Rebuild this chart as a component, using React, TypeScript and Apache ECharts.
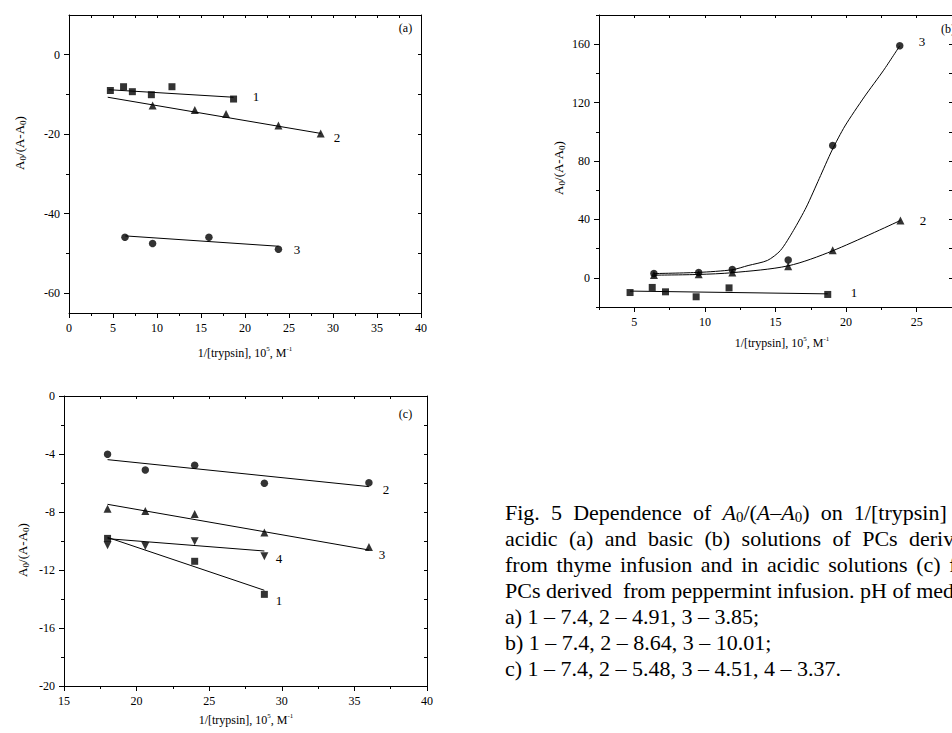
import React, { useEffect, useRef } from 'react';
import * as echarts from 'echarts';

const FONT = '"Liberation Serif", "Times New Roman", Times, serif';

// ---------- Panel (a): acidic, thyme ----------
const aSquares = [[4.7, -9.0], [6.2, -8.05], [7.2, -9.3], [9.36, -10.06], [11.7, -8.05], [18.7, -11.15]];
const aTriangles = [[9.5, -12.8], [14.3, -13.9], [17.85, -14.9], [23.8, -17.8], [28.6, -19.8]];
const aCircles = [[6.36, -45.95], [9.5, -47.5], [15.9, -45.95], [23.8, -48.97]];
const aFit1 = [[4.5, -8.8], [18.7, -10.7]];
const aFit2 = [[4.4, -10.7], [28.6, -19.8]];
const aFit3 = [[6.4, -45.6], [23.8, -48.2]];
const aXMajor = [0, 5, 10, 15, 20, 25, 30, 35, 40];
const aXMinor = [2.5, 7.5, 12.5, 17.5, 22.5, 27.5, 32.5, 37.5];
const aYMajor = [-60, -40, -20, 0];
const aYMinor = [-50, -30, -10];

// ---------- Panel (b): basic, thyme ----------
const bSquares = [[4.7, -10.1], [6.27, -6.6], [7.21, -9.6], [9.38, -13.0], [11.71, -6.9], [18.7, -11.4]];
const bTriangles = [[6.39, 2.0], [9.56, 2.5], [11.94, 3.7], [15.9, 7.9], [19.05, 18.8], [23.85, 39.3]];
const bCircles = [[6.39, 3.0], [9.56, 3.66], [11.94, 5.7], [15.9, 12.2], [19.05, 90.6], [23.8, 158.9]];
const bFit1 = [[4.7, -9.1], [18.7, -11.0]];
const bCurve2 = [[6.39, 1.8], [9.56, 2.3], [11.94, 3.5], [15.9, 8.2], [19.05, 18.5], [23.85, 39.3]];
const bCurve3 = [
  [6.39, 2.9], [9.56, 3.7], [11.94, 5.5], [13.06, 8.4], [14.43, 11.9], [15.35, 18.7],
  [16.27, 32.4], [17.18, 48.4], [18.1, 68.0], [19.01, 87.5], [19.92, 104.0],
  [21.29, 123.9], [22.66, 142.2], [23.8, 158.9],
];
const bXMajor = [5, 10, 15, 20, 25];
const bXMinor = [2.5, 7.5, 12.5, 17.5, 22.5, 27.5];
const bYMajor = [0, 40, 80, 120, 160];
const bYMinor = [-20, 20, 60, 100, 140, 180];

// ---------- Panel (c): acidic, peppermint ----------
const cSquares = [[18.0, -9.82], [24.0, -11.4], [28.8, -13.68]];
const cCircles = [[18.0, -4.02], [20.6, -5.1], [24.0, -4.78], [28.8, -6.02], [36.0, -5.98]];
const cTriangles = [[18.0, -7.77], [20.6, -7.93], [24.0, -8.14], [28.8, -9.42], [36.0, -10.41]];
const cDownTriangles = [[18.0, -10.3], [20.6, -10.34], [24.0, -10.02], [28.8, -11.06]];
const cFit1 = [[18.0, -9.75], [28.8, -13.4]];
const cFit2 = [[18.0, -4.39], [36.0, -6.25]];
const cFit3 = [[18.0, -7.47], [36.0, -10.62]];
const cFit4 = [[18.0, -9.84], [28.8, -10.69]];
const cXMajor = [15, 20, 25, 30, 35, 40];
const cXMinor = [17.5, 22.5, 27.5, 32.5, 37.5];
const cYMajor = [-20, -16, -12, -8, -4, 0];
const cYMinor = [-18, -14, -10, -6, -2];

// Caption: justified lines are lists of words; each word is a list of [token, text]
type Tok = [string, string];
const captionJustified: Tok[][][] = [
  [[['n', 'Fig.']], [['n', '5']], [['n', 'Dependence']], [['n', 'of']],
   [['i', 'A'], ['s', '0'], ['n', '/('], ['i', 'A'], ['n', '–'], ['i', 'A'], ['s', '0'], ['n', ')']],
   [['n', 'on']], [['n', '1/[trypsin]']], [['n', 'in']]],
  'acidic (a) and basic (b) solutions of PCs derived'.split(' ').map((w) => [['n', w]] as Tok[]),
  'from thyme infusion and in acidic solutions (c) for'.split(' ').map((w) => [['n', w]] as Tok[]),
];
const captionPlain = [
  'PCs derived  from peppermint infusion. pH of medium:',
  'a) 1 – 7.4, 2 – 4.91, 3 – 3.85;',
  'b) 1 – 7.4, 2 – 8.64, 3 – 10.01;',
  'c) 1 – 7.4, 2 – 5.48, 3 – 4.51, 4 – 3.37.',
];

const BLACK = '#000';
const PAGE_W = 952;
const CAP_SIZE = 22;
const CAP_LEFT = 505;
const CAP_RIGHT = 975;
const CAP_ROWS = [512, 538, 564, 590, 616, 642, 668];

function xAxesFor(gridIndex: number, min: number, max: number, major: number[], minor: number[]) {
  return [
    {
      gridIndex, type: 'value', min, max, position: 'bottom',
      axisLine: { show: true, onZero: false, lineStyle: { color: BLACK, width: 1 } },
      axisTick: { show: true, inside: false, length: 5, customValues: major, lineStyle: { color: BLACK, width: 1 } },
      axisLabel: { show: true, customValues: major, color: BLACK, fontFamily: FONT, fontSize: 12, margin: 9 },
      splitLine: { show: false },
    },
    {
      gridIndex, type: 'value', min, max, position: 'bottom',
      axisLine: { show: false, onZero: false },
      axisTick: { show: true, inside: false, length: 3, customValues: minor, lineStyle: { color: BLACK, width: 1 } },
      axisLabel: { show: false },
      splitLine: { show: false },
    },
    {
      gridIndex, type: 'value', min, max, position: 'top',
      axisLine: { show: true, onZero: false, lineStyle: { color: BLACK, width: 1 } },
      axisTick: { show: true, inside: true, length: 3, customValues: [...major, ...minor], lineStyle: { color: BLACK, width: 1 } },
      axisLabel: { show: false },
      splitLine: { show: false },
    },
  ];
}

function yAxesFor(gridIndex: number, min: number, max: number, major: number[], minor: number[]) {
  return [
    {
      gridIndex, type: 'value', min, max, position: 'left',
      axisLine: { show: true, onZero: false, lineStyle: { color: BLACK, width: 1 } },
      axisTick: { show: true, inside: false, length: 5, customValues: major, lineStyle: { color: BLACK, width: 1 } },
      axisLabel: { show: true, customValues: major, color: BLACK, fontFamily: FONT, fontSize: 12, margin: 9 },
      splitLine: { show: false },
    },
    {
      gridIndex, type: 'value', min, max, position: 'left',
      axisLine: { show: false, onZero: false },
      axisTick: { show: true, inside: false, length: 3, customValues: minor, lineStyle: { color: BLACK, width: 1 } },
      axisLabel: { show: false },
      splitLine: { show: false },
    },
    {
      gridIndex, type: 'value', min, max, position: 'right',
      axisLine: { show: true, onZero: false, lineStyle: { color: BLACK, width: 1 } },
      axisTick: { show: true, inside: true, length: 3, customValues: [...major, ...minor], lineStyle: { color: BLACK, width: 1 } },
      axisLabel: { show: false },
      splitLine: { show: false },
    },
  ];
}

function scatter(panel: number, data: number[][], symbol: string, size: number, rotate = 0) {
  return {
    type: 'scatter', xAxisIndex: panel * 3, yAxisIndex: panel * 3, data,
    symbol, symbolSize: size, symbolRotate: rotate,
    itemStyle: { color: BLACK }, silent: true, z: 3,
  };
}

function line(panel: number, data: number[][], smooth: number | boolean = false) {
  return {
    type: 'line', xAxisIndex: panel * 3, yAxisIndex: panel * 3, data,
    symbol: 'none', showSymbol: false, smooth,
    lineStyle: { color: BLACK, width: 1 }, silent: true, z: 2,
  };
}

const subSize = (size: number) => Math.round(size * 0.68);
const supSize = (size: number) => Math.round(size * 0.6);

const tokenStyle = (size: number) => ({
  n: { fontSize: size, fontFamily: FONT, fill: BLACK, color: BLACK, lineHeight: size + 3 },
  s: { fontSize: subSize(size), fontFamily: FONT, fill: BLACK, color: BLACK, lineHeight: subSize(size), verticalAlign: 'bottom' },
  p: { fontSize: supSize(size), fontFamily: FONT, fill: BLACK, color: BLACK, lineHeight: supSize(size), verticalAlign: 'top' },
  i: { fontSize: size, fontFamily: FONT, fontStyle: 'italic', fill: BLACK, color: BLACK, lineHeight: size + 3 },
});

function richTxt(text: string, x: number, y: number, size: number, align = 'center', rotation = 0) {
  return {
    type: 'text', x, y, rotation, silent: true,
    style: {
      text, fill: BLACK, fontFamily: FONT, fontSize: size,
      align, textAlign: align, verticalAlign: 'middle', textVerticalAlign: 'middle',
      rich: tokenStyle(size),
    },
  };
}

function plainTxt(text: string, x: number, y: number, size: number, align = 'center') {
  return {
    type: 'text', x, y, silent: true,
    style: {
      text, fill: BLACK, fontFamily: FONT, fontSize: size,
      align, textAlign: align, verticalAlign: 'middle', textVerticalAlign: 'middle',
    },
  };
}

let measureCtx: CanvasRenderingContext2D | null = null;
function measure(text: string, size: number, italic: boolean) {
  if (!measureCtx) measureCtx = document.createElement('canvas').getContext('2d');
  if (!measureCtx) return text.length * size * 0.5;
  measureCtx.font = `${italic ? 'italic ' : ''}${size}px "Liberation Serif"`;
  return measureCtx.measureText(text).width;
}

function wordWidth(word: Tok[], size: number) {
  return word.reduce((s, [k, t]) => {
    const sz = k === 's' ? subSize(size) : k === 'p' ? supSize(size) : size;
    return s + measure(t, sz, k === 'i');
  }, 0);
}

function justifiedLine(words: Tok[][], y: number, out: any[]) {
  const widths = words.map((w) => wordWidth(w, CAP_SIZE));
  const total = widths.reduce((a, b) => a + b, 0);
  const gap = (CAP_RIGHT - CAP_LEFT - total) / (words.length - 1);
  let x = CAP_LEFT;
  words.forEach((w, k) => {
    if (x < PAGE_W - 1) {
      const rich = w.map(([t, s]) => `{${t}|${s}}`).join('');
      out.push(richTxt(rich, x, y, CAP_SIZE, 'left'));
    }
    x += widths[k] + gap;
  });
}

const yTitle = '{n|A}{s|0}{n|/(A-A}{s|0}{n|)}';
const xTitle = '{n|1/[trypsin], 10}{p|5}{n|, M}{p|-1}';

function buildOption() {
  const graphic: any[] = [
    // axis titles
    richTxt(yTitle, 19, 143, 13, 'center', Math.PI / 2),
    richTxt(xTitle, 245, 353, 12),
    richTxt(yTitle, 558, 168, 13, 'center', Math.PI / 2),
    richTxt(xTitle, 782, 343, 12),
    richTxt(yTitle, 22, 550, 13, 'center', Math.PI / 2),
    richTxt(xTitle, 246, 720, 12),
    // panel tags
    plainTxt('(a)', 405.5, 28, 12),
    plainTxt('(b)', 941, 28.5, 12, 'left'),
    plainTxt('(c)', 405.5, 414, 12),
    // curve numbers (a)
    plainTxt('1', 256, 96, 13),
    plainTxt('2', 337, 137, 13),
    plainTxt('3', 297, 249, 13),
    // curve numbers (b)
    plainTxt('3', 922, 41, 13),
    plainTxt('2', 923, 220, 13),
    plainTxt('1', 854, 292, 13),
    // curve numbers (c)
    plainTxt('2', 386, 489, 13),
    plainTxt('3', 382, 554, 13),
    plainTxt('4', 279, 558, 13),
    plainTxt('1', 279, 600, 13),
  ];
  captionJustified.forEach((words, k) => justifiedLine(words, CAP_ROWS[k], graphic));
  captionPlain.forEach((t, k) =>
    graphic.push(plainTxt(t, CAP_LEFT, CAP_ROWS[k + captionJustified.length], CAP_SIZE, 'left')),
  );

  return {
    animation: false,
    backgroundColor: '#fff',
    grid: [
      { left: 69, top: 15, width: 352, height: 298 },
      { left: 599, top: 15, width: 364.5, height: 292 },
      { left: 64, top: 396, width: 363, height: 290 },
    ],
    xAxis: [
      ...xAxesFor(0, 0, 40, aXMajor, aXMinor),
      ...xAxesFor(1, 2.5, 27.5, bXMajor, bXMinor),
      ...xAxesFor(2, 15, 40, cXMajor, cXMinor),
    ],
    yAxis: [
      ...yAxesFor(0, -65, 10, aYMajor, aYMinor),
      ...yAxesFor(1, -20, 180, bYMajor, bYMinor),
      ...yAxesFor(2, -20, 0, cYMajor, cYMinor),
    ],
    series: [
      line(0, aFit1), line(0, aFit2), line(0, aFit3),
      scatter(0, aSquares, 'rect', 7),
      scatter(0, aTriangles, 'triangle', 8),
      scatter(0, aCircles, 'circle', 7.5),

      line(1, bFit1), line(1, bCurve2, 0.3), line(1, bCurve3, 0.25),
      scatter(1, bSquares, 'rect', 7),
      scatter(1, bTriangles, 'triangle', 8),
      scatter(1, bCircles, 'circle', 7.5),

      line(2, cFit1), line(2, cFit2), line(2, cFit3), line(2, cFit4),
      scatter(2, cSquares, 'rect', 7),
      scatter(2, cCircles, 'circle', 7.5),
      scatter(2, cTriangles, 'triangle', 8),
      scatter(2, cDownTriangles, 'triangle', 8, 180),
    ],
    graphic,
  };
}

export default function App() {
  const ref = useRef<HTMLDivElement>(null);
  useEffect(() => {
    if (!ref.current) return;
    const chart = echarts.init(ref.current, null, { renderer: 'svg' });
    chart.setOption(buildOption() as any);
    return () => chart.dispose();
  }, []);
  return (
    <div
      ref={ref}
      style={{ position: 'absolute', left: 0, top: 0, width: 952, height: 733, overflow: 'hidden', background: '#fff' }}
    />
  );
}
